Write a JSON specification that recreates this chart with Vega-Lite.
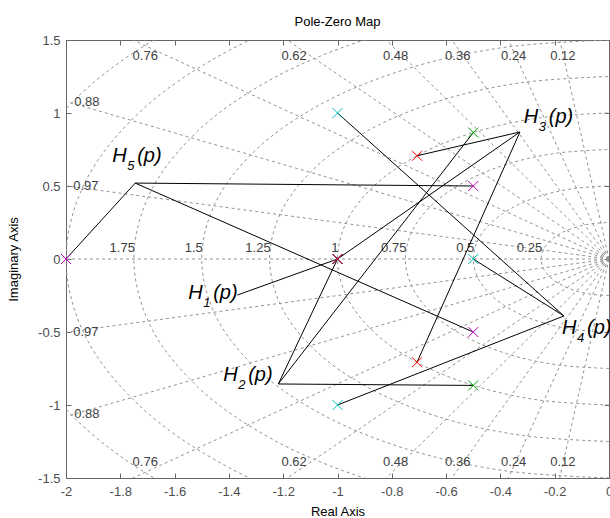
{
  "$schema": "https://vega.github.io/schema/vega-lite/v6.json",
  "width": 543,
  "height": 438,
  "autosize": "none",
  "padding": {"left": 66, "top": 40, "right": 1, "bottom": 40},
  "background": "white",
  "title": {"text": "Pole-Zero Map", "anchor": "middle", "frame": "group", "fontSize": 13, "fontWeight": "normal", "font": "Liberation Sans", "color": "#000", "offset": 5},
  "config": {
    "view": {"stroke": "#666", "strokeWidth": 1},
    "axis": {"labelFont": "Liberation Sans", "titleFont": "Liberation Sans", "labelFontSize": 13, "titleFontSize": 13, "titleFontWeight": "normal", "titleColor": "#000", "labelColor": "#4d4d4d", "domainColor": "#666", "tickColor": "#666", "grid": false, "labelFlush": false, "labelOverlap": false}
  },
  "datasets": {
    "circles": [
      {"r":0.25,"k":0,"x":0,"y":-0.25},{"r":0.25,"k":1,"x":-0.0647,"y":-0.2415},{"r":0.25,"k":2,"x":-0.125,"y":-0.2165},{"r":0.25,"k":3,"x":-0.1768,"y":-0.1768},{"r":0.25,"k":4,"x":-0.2165,"y":-0.125},{"r":0.25,"k":5,"x":-0.2415,"y":-0.0647},{"r":0.25,"k":6,"x":-0.25,"y":0},{"r":0.25,"k":7,"x":-0.2415,"y":0.0647},{"r":0.25,"k":8,"x":-0.2165,"y":0.125},{"r":0.25,"k":9,"x":-0.1768,"y":0.1768},{"r":0.25,"k":10,"x":-0.125,"y":0.2165},{"r":0.25,"k":11,"x":-0.0647,"y":0.2415},{"r":0.25,"k":12,"x":0,"y":0.25},
      {"r":0.5,"k":0,"x":0,"y":-0.5},{"r":0.5,"k":1,"x":-0.1294,"y":-0.483},{"r":0.5,"k":2,"x":-0.25,"y":-0.433},{"r":0.5,"k":3,"x":-0.3536,"y":-0.3536},{"r":0.5,"k":4,"x":-0.433,"y":-0.25},{"r":0.5,"k":5,"x":-0.483,"y":-0.1294},{"r":0.5,"k":6,"x":-0.5,"y":0},{"r":0.5,"k":7,"x":-0.483,"y":0.1294},{"r":0.5,"k":8,"x":-0.433,"y":0.25},{"r":0.5,"k":9,"x":-0.3536,"y":0.3536},{"r":0.5,"k":10,"x":-0.25,"y":0.433},{"r":0.5,"k":11,"x":-0.1294,"y":0.483},{"r":0.5,"k":12,"x":0,"y":0.5},
      {"r":0.75,"k":0,"x":0,"y":-0.75},{"r":0.75,"k":1,"x":-0.1941,"y":-0.7244},{"r":0.75,"k":2,"x":-0.375,"y":-0.6495},{"r":0.75,"k":3,"x":-0.5303,"y":-0.5303},{"r":0.75,"k":4,"x":-0.6495,"y":-0.375},{"r":0.75,"k":5,"x":-0.7244,"y":-0.1941},{"r":0.75,"k":6,"x":-0.75,"y":0},{"r":0.75,"k":7,"x":-0.7244,"y":0.1941},{"r":0.75,"k":8,"x":-0.6495,"y":0.375},{"r":0.75,"k":9,"x":-0.5303,"y":0.5303},{"r":0.75,"k":10,"x":-0.375,"y":0.6495},{"r":0.75,"k":11,"x":-0.1941,"y":0.7244},{"r":0.75,"k":12,"x":0,"y":0.75},
      {"r":1,"k":0,"x":0,"y":-1},{"r":1,"k":1,"x":-0.2588,"y":-0.9659},{"r":1,"k":2,"x":-0.5,"y":-0.866},{"r":1,"k":3,"x":-0.7071,"y":-0.7071},{"r":1,"k":4,"x":-0.866,"y":-0.5},{"r":1,"k":5,"x":-0.9659,"y":-0.2588},{"r":1,"k":6,"x":-1,"y":0},{"r":1,"k":7,"x":-0.9659,"y":0.2588},{"r":1,"k":8,"x":-0.866,"y":0.5},{"r":1,"k":9,"x":-0.7071,"y":0.7071},{"r":1,"k":10,"x":-0.5,"y":0.866},{"r":1,"k":11,"x":-0.2588,"y":0.9659},{"r":1,"k":12,"x":0,"y":1},
      {"r":1.25,"k":0,"x":0,"y":-1.25},{"r":1.25,"k":1,"x":-0.3235,"y":-1.2074},{"r":1.25,"k":2,"x":-0.625,"y":-1.0825},{"r":1.25,"k":3,"x":-0.8839,"y":-0.8839},{"r":1.25,"k":4,"x":-1.0825,"y":-0.625},{"r":1.25,"k":5,"x":-1.2074,"y":-0.3235},{"r":1.25,"k":6,"x":-1.25,"y":0},{"r":1.25,"k":7,"x":-1.2074,"y":0.3235},{"r":1.25,"k":8,"x":-1.0825,"y":0.625},{"r":1.25,"k":9,"x":-0.8839,"y":0.8839},{"r":1.25,"k":10,"x":-0.625,"y":1.0825},{"r":1.25,"k":11,"x":-0.3235,"y":1.2074},{"r":1.25,"k":12,"x":0,"y":1.25},
      {"r":1.5,"k":0,"x":0,"y":-1.5},{"r":1.5,"k":1,"x":-0.3882,"y":-1.4489},{"r":1.5,"k":2,"x":-0.75,"y":-1.299},{"r":1.5,"k":3,"x":-1.0607,"y":-1.0607},{"r":1.5,"k":4,"x":-1.299,"y":-0.75},{"r":1.5,"k":5,"x":-1.4489,"y":-0.3882},{"r":1.5,"k":6,"x":-1.5,"y":0},{"r":1.5,"k":7,"x":-1.4489,"y":0.3882},{"r":1.5,"k":8,"x":-1.299,"y":0.75},{"r":1.5,"k":9,"x":-1.0607,"y":1.0607},{"r":1.5,"k":10,"x":-0.75,"y":1.299},{"r":1.5,"k":11,"x":-0.3882,"y":1.4489},{"r":1.5,"k":12,"x":0,"y":1.5},
      {"r":1.75,"k":0,"x":0,"y":-1.75},{"r":1.75,"k":1,"x":-0.4529,"y":-1.6904},{"r":1.75,"k":2,"x":-0.875,"y":-1.5155},{"r":1.75,"k":3,"x":-1.2374,"y":-1.2374},{"r":1.75,"k":4,"x":-1.5155,"y":-0.875},{"r":1.75,"k":5,"x":-1.6904,"y":-0.4529},{"r":1.75,"k":6,"x":-1.75,"y":0},{"r":1.75,"k":7,"x":-1.6904,"y":0.4529},{"r":1.75,"k":8,"x":-1.5155,"y":0.875},{"r":1.75,"k":9,"x":-1.2374,"y":1.2374},{"r":1.75,"k":10,"x":-0.875,"y":1.5155},{"r":1.75,"k":11,"x":-0.4529,"y":1.6904},{"r":1.75,"k":12,"x":0,"y":1.75},
      {"r":2,"k":0,"x":0,"y":-2},{"r":2,"k":1,"x":-0.5176,"y":-1.9319},{"r":2,"k":2,"x":-1,"y":-1.7321},{"r":2,"k":3,"x":-1.4142,"y":-1.4142},{"r":2,"k":4,"x":-1.7321,"y":-1},{"r":2,"k":5,"x":-1.9319,"y":-0.5176},{"r":2,"k":6,"x":-2,"y":0},{"r":2,"k":7,"x":-1.9319,"y":0.5176},{"r":2,"k":8,"x":-1.7321,"y":1},{"r":2,"k":9,"x":-1.4142,"y":1.4142},{"r":2,"k":10,"x":-1,"y":1.7321},{"r":2,"k":11,"x":-0.5176,"y":1.9319},{"r":2,"k":12,"x":0,"y":2},
      {"r":2.25,"k":0,"x":0,"y":-2.25},{"r":2.25,"k":1,"x":-0.5823,"y":-2.1733},{"r":2.25,"k":2,"x":-1.125,"y":-1.9486},{"r":2.25,"k":3,"x":-1.591,"y":-1.591},{"r":2.25,"k":4,"x":-1.9486,"y":-1.125},{"r":2.25,"k":5,"x":-2.1733,"y":-0.5823},{"r":2.25,"k":6,"x":-2.25,"y":0},{"r":2.25,"k":7,"x":-2.1733,"y":0.5823},{"r":2.25,"k":8,"x":-1.9486,"y":1.125},{"r":2.25,"k":9,"x":-1.591,"y":1.591},{"r":2.25,"k":10,"x":-1.125,"y":1.9486},{"r":2.25,"k":11,"x":-0.5823,"y":2.1733},{"r":2.25,"k":12,"x":0,"y":2.25}
    ],
    "rays": [
      {"z":0.12,"x":0,"y":0,"x2":-0.36,"y2":2.978},{"z":0.12,"x":0,"y":0,"x2":-0.36,"y2":-2.978},
      {"z":0.24,"x":0,"y":0,"x2":-0.72,"y2":2.912},{"z":0.24,"x":0,"y":0,"x2":-0.72,"y2":-2.912},
      {"z":0.36,"x":0,"y":0,"x2":-1.08,"y2":2.799},{"z":0.36,"x":0,"y":0,"x2":-1.08,"y2":-2.799},
      {"z":0.48,"x":0,"y":0,"x2":-1.44,"y2":2.632},{"z":0.48,"x":0,"y":0,"x2":-1.44,"y2":-2.632},
      {"z":0.62,"x":0,"y":0,"x2":-1.86,"y2":2.354},{"z":0.62,"x":0,"y":0,"x2":-1.86,"y2":-2.354},
      {"z":0.76,"x":0,"y":0,"x2":-2.28,"y2":1.95},{"z":0.76,"x":0,"y":0,"x2":-2.28,"y2":-1.95},
      {"z":0.88,"x":0,"y":0,"x2":-2.64,"y2":1.425},{"z":0.88,"x":0,"y":0,"x2":-2.64,"y2":-1.425},
      {"z":0.97,"x":0,"y":0,"x2":-2.91,"y2":0.729},{"z":0.97,"x":0,"y":0,"x2":-2.91,"y2":-0.729},
      {"z":1,"x":0,"y":0,"x2":-3,"y2":0}
    ],
    "wnLabels": [
      {"t":"0.25","x":-0.25,"y":0.075},{"t":"0.5","x":-0.5,"y":0.075},{"t":"0.75","x":-0.75,"y":0.075},{"t":"1","x":-1,"y":0.075},{"t":"1.25","x":-1.25,"y":0.075},{"t":"1.5","x":-1.5,"y":0.075},{"t":"1.75","x":-1.75,"y":0.075}
    ],
    "zetaLabels": [
      {"t":"0.76","x":-1.708,"y":1.39},{"t":"0.62","x":-1.16,"y":1.39},{"t":"0.48","x":-0.786,"y":1.39},{"t":"0.36","x":-0.557,"y":1.39},{"t":"0.24","x":-0.351,"y":1.39},{"t":"0.12","x":-0.17,"y":1.39},
      {"t":"0.76","x":-1.708,"y":-1.39},{"t":"0.62","x":-1.16,"y":-1.39},{"t":"0.48","x":-0.786,"y":-1.39},{"t":"0.36","x":-0.557,"y":-1.39},{"t":"0.24","x":-0.351,"y":-1.39},{"t":"0.12","x":-0.17,"y":-1.39},
      {"t":"0.88","x":-1.923,"y":1.075},{"t":"0.97","x":-1.927,"y":0.5},{"t":"0.97","x":-1.927,"y":-0.5},{"t":"0.88","x":-1.923,"y":-1.065}
    ],
    "links": [
      {"h":"H1","x":-1.369,"y":-0.247,"x2":-1,"y2":0},
      {"h":"H2","x":-1.218,"y":-0.856,"x2":-1,"y2":0},
      {"h":"H2","x":-1.218,"y":-0.856,"x2":-0.5,"y2":0.866},
      {"h":"H2","x":-1.218,"y":-0.856,"x2":-0.5,"y2":-0.866},
      {"h":"H3","x":-0.328,"y":0.87,"x2":-0.7071,"y2":0.7071},
      {"h":"H3","x":-0.328,"y":0.87,"x2":-1,"y2":0},
      {"h":"H3","x":-0.328,"y":0.87,"x2":-0.7071,"y2":-0.7071},
      {"h":"H4","x":-0.166,"y":-0.39,"x2":-0.5,"y2":0},
      {"h":"H4","x":-0.166,"y":-0.39,"x2":-1,"y2":1},
      {"h":"H4","x":-0.166,"y":-0.39,"x2":-1,"y2":-1},
      {"h":"H5","x":-1.745,"y":0.52,"x2":-2,"y2":0},
      {"h":"H5","x":-1.745,"y":0.52,"x2":-0.5,"y2":0.5},
      {"h":"H5","x":-1.745,"y":0.52,"x2":-0.5,"y2":-0.5}
    ],
    "poles": [
      {"h":"H2","x":-1,"y":0},{"h":"H2","x":-0.5,"y":0.866},{"h":"H2","x":-0.5,"y":-0.866},
      {"h":"H4","x":-0.5,"y":0},{"h":"H4","x":-1,"y":1},{"h":"H4","x":-1,"y":-1},
      {"h":"H5","x":-2,"y":0},{"h":"H5","x":-0.5,"y":0.5},{"h":"H5","x":-0.5,"y":-0.5},
      {"h":"H1","x":-1,"y":0},
      {"h":"H3","x":-1,"y":0},{"h":"H3","x":-0.7071,"y":0.7071},{"h":"H3","x":-0.7071,"y":-0.7071}
    ],
    "names": [
      {"n":"H","s":"1","p":"(p)","x":-1.55,"y":-0.274},
      {"n":"H","s":"2","p":"(p)","x":-1.421,"y":-0.836},
      {"n":"H","s":"3","p":"(p)","x":-0.314,"y":0.932},
      {"n":"H","s":"4","p":"(p)","x":-0.173,"y":-0.514},
      {"n":"H","s":"5","p":"(p)","x":-1.83,"y":0.664}
    ]
  },
  "resolve": {"axis": {"x": "independent", "y": "independent"}},
  "layer": [
    {
      "encoding": {
        "x": {"field": "x", "type": "quantitative", "scale": {"domain": [-2, 0], "nice": false, "zero": false},
              "axis": {"orient": "bottom", "title": "Real Axis", "values": [-2, -1.8, -1.6, -1.4, -1.2, -1, -0.8, -0.6, -0.4, -0.2, 0], "tickSize": -5, "labelPadding": 12, "titlePadding": 7, "labelExpr": "replace(format(datum.value, '~g'), '−', '-')"}},
        "y": {"field": "y", "type": "quantitative", "scale": {"domain": [-1.5, 1.5], "nice": false, "zero": false},
              "axis": {"orient": "left", "title": "Imaginary Axis", "values": [-1.5, -1, -0.5, 0, 0.5, 1, 1.5], "tickSize": -5, "labelPadding": 11, "titlePadding": 17, "labelExpr": "replace(format(datum.value, '~g'), '−', '-')"}}
      },
      "layer": [
        {"data": {"name": "circles"}, "mark": {"type": "line", "clip": true, "interpolate": "catmull-rom", "color": "#939393", "strokeWidth": 1, "strokeDash": [3, 3]},
         "encoding": {"detail": {"field": "r"}, "order": {"field": "k", "type": "quantitative"}}},
        {"data": {"name": "rays"}, "mark": {"type": "rule", "clip": true, "color": "#939393", "strokeWidth": 1, "strokeDash": [3, 3]},
         "encoding": {"x2": {"field": "x2"}, "y2": {"field": "y2"}}},
        {"data": {"name": "wnLabels"}, "mark": {"type": "text", "align": "right", "baseline": "middle", "dx": 1, "font": "Liberation Sans", "fontSize": 13, "color": "#404040"},
         "encoding": {"text": {"field": "t"}}},
        {"data": {"name": "zetaLabels"}, "mark": {"type": "text", "align": "center", "baseline": "middle", "font": "Liberation Sans", "fontSize": 13, "color": "#404040"},
         "encoding": {"text": {"field": "t"}}},
        {"data": {"name": "links"}, "mark": {"type": "rule", "color": "#000", "strokeWidth": 1},
         "encoding": {"x2": {"field": "x2"}, "y2": {"field": "y2"}}},
        {"data": {"name": "poles"}, "mark": {"type": "point", "shape": "M-1,-1L1,1M-1,1L1,-1", "filled": false, "size": 100, "strokeWidth": 1, "opacity": 1},
         "encoding": {"color": {"field": "h", "type": "nominal", "legend": null, "scale": {"domain": ["H1", "H2", "H3", "H4", "H5"], "range": ["#0000ff", "#00a000", "#ff0000", "#00bfbf", "#bf00bf"]}}}},
        {"data": {"name": "names"}, "mark": {"type": "text", "align": "left", "baseline": "alphabetic", "font": "Liberation Sans", "fontStyle": "italic", "fontSize": 20, "color": "#000"},
         "encoding": {"text": {"field": "n"}}},
        {"data": {"name": "names"}, "mark": {"type": "text", "align": "left", "baseline": "alphabetic", "dx": 15, "dy": 8, "font": "Liberation Sans", "fontStyle": "italic", "fontSize": 13, "color": "#000"},
         "encoding": {"text": {"field": "s"}}},
        {"data": {"name": "names"}, "mark": {"type": "text", "align": "left", "baseline": "alphabetic", "dx": 25, "font": "Liberation Sans", "fontStyle": "italic", "fontSize": 20, "color": "#000"},
         "encoding": {"text": {"field": "p"}}}
      ]
    },
    {
      "data": {"name": "poles"},
      "mark": {"type": "point", "opacity": 0},
      "encoding": {
        "x": {"field": "x", "type": "quantitative", "scale": {"domain": [-2, 0], "nice": false, "zero": false},
              "axis": {"orient": "top", "title": null, "labels": false, "domain": false, "values": [-2, -1.8, -1.6, -1.4, -1.2, -1, -0.8, -0.6, -0.4, -0.2, 0], "tickSize": -5}},
        "y": {"field": "y", "type": "quantitative", "scale": {"domain": [-1.5, 1.5], "nice": false, "zero": false},
              "axis": {"orient": "right", "title": null, "labels": false, "domain": false, "values": [-1.5, -1, -0.5, 0, 0.5, 1, 1.5], "tickSize": -5}}
      }
    }
  ]
}
